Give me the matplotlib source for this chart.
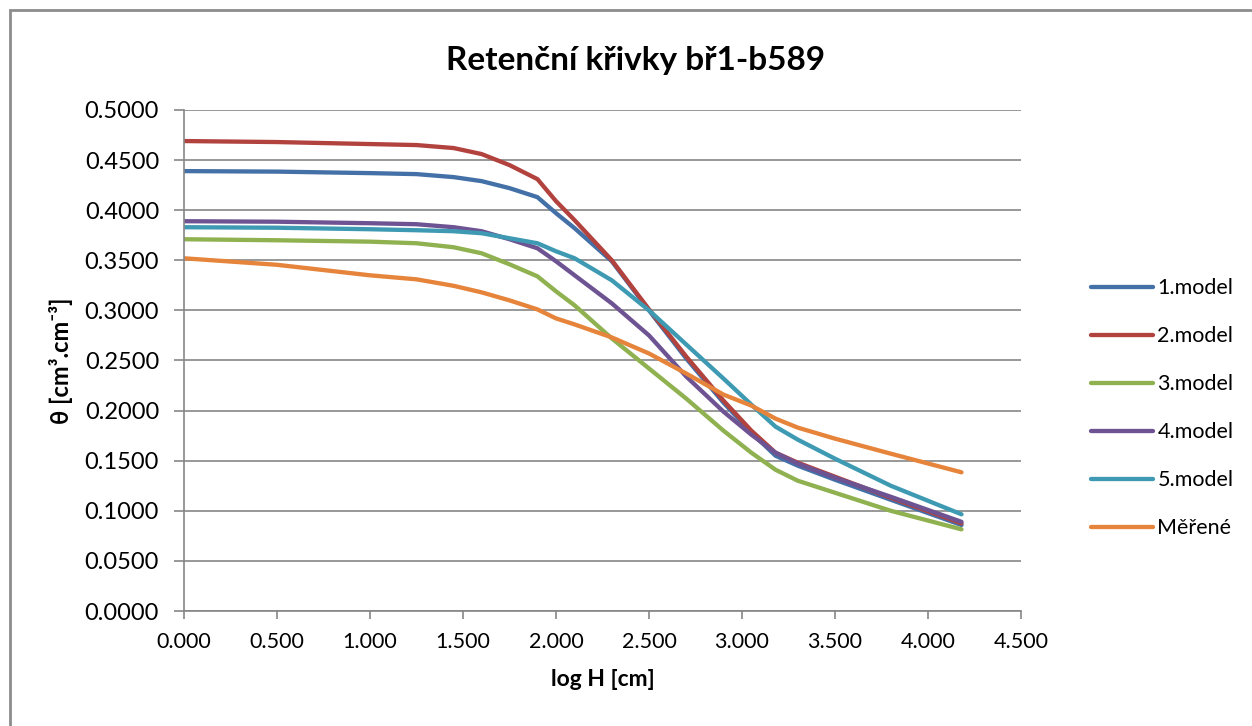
import matplotlib
matplotlib.use("Agg")
import matplotlib.pyplot as plt
from matplotlib.patches import Rectangle

log_h = [0.0, 0.5, 1.0, 1.25, 1.45, 1.6, 1.75, 1.9, 2.0, 2.1, 2.3, 2.5, 2.7,
         2.9, 3.05, 3.18, 3.3, 3.5, 3.8, 4.18]

model_1 = [0.439, 0.4385, 0.437, 0.436, 0.433, 0.429, 0.422, 0.413, 0.397, 0.382,
           0.349, 0.300, 0.252, 0.208, 0.178, 0.155, 0.145, 0.131, 0.111, 0.0858]
model_2 = [0.469, 0.468, 0.466, 0.465, 0.462, 0.456, 0.445, 0.431, 0.409, 0.390,
           0.350, 0.301, 0.254, 0.210, 0.180, 0.158, 0.148, 0.134, 0.113, 0.0875]
model_3 = [0.371, 0.370, 0.3686, 0.367, 0.363, 0.357, 0.346, 0.334, 0.319, 0.305,
           0.272, 0.242, 0.212, 0.180, 0.158, 0.141, 0.130, 0.118, 0.100, 0.0815]
model_4 = [0.389, 0.3885, 0.387, 0.386, 0.383, 0.379, 0.371, 0.362, 0.349, 0.335,
           0.307, 0.275, 0.234, 0.199, 0.176, 0.158, 0.147, 0.133, 0.114, 0.089]
model_5 = [0.383, 0.3825, 0.381, 0.380, 0.379, 0.377, 0.372, 0.367, 0.359, 0.352,
           0.330, 0.300, 0.266, 0.232, 0.206, 0.184, 0.171, 0.152, 0.125, 0.0965]
merene = [0.352, 0.3455, 0.335, 0.331, 0.3245, 0.318, 0.310, 0.301, 0.292, 0.286,
          0.273, 0.257, 0.237, 0.216, 0.205, 0.192, 0.183, 0.172, 0.157, 0.1384]

series = [
    ("1.model", model_1, "#4470A8"),
    ("2.model", model_2, "#B2423E"),
    ("3.model", model_3, "#8FB150"),
    ("4.model", model_4, "#6E5393"),
    ("5.model", model_5, "#3E9AB3"),
    ("Měřené", merene, "#E5843A"),
]

plt.rcParams["font.family"] = ["Lato", "DejaVu Sans"]

fig = plt.figure(figsize=(12.52, 7.26), dpi=100)
ax = fig.add_axes([0.147, 0.1584, 0.6685, 0.6901])

for label, values, color in series:
    ax.plot(log_h, values, color=color, linewidth=3.1, label=label,
            solid_capstyle="round", solid_joinstyle="round")

ax.set_xlim(0, 4.5)
ax.set_ylim(0, 0.5)
ax.set_xticks([i * 0.5 for i in range(10)])
ax.set_xticklabels([f"{i * 0.5:.3f}" for i in range(10)])
ax.set_yticks([i * 0.05 for i in range(11)])
ax.set_yticklabels([f"{i * 0.05:.4f}" for i in range(11)])

grid_color = "#868686"
ax.grid(axis="y", color=grid_color, linewidth=1.2)
ax.set_axisbelow(True)
for side in ("top", "right"):
    ax.spines[side].set_visible(False)
for side in ("left", "bottom"):
    ax.spines[side].set_color(grid_color)
    ax.spines[side].set_linewidth(1.2)
ax.tick_params(axis="both", colors=grid_color, labelcolor="black",
               direction="out")
ax.tick_params(axis="y", length=7, width=1.2, pad=11, labelsize=17)
ax.tick_params(axis="x", length=6, width=1.2, pad=9, labelsize=15.5)

ax.set_xlabel("log H [cm]", fontsize=16.5, fontweight="bold", labelpad=12)
ax.set_ylabel("θ [cm³.cm⁻³]", fontsize=17, fontweight="bold", labelpad=8)
fig.text(0.508, 0.917, "Retenční křivky bř1-b589", ha="center", va="center",
         fontsize=24, fontweight="bold")

ax.legend(loc="center left", bbox_to_anchor=(1.06, 0.405), frameon=False,
          fontsize=15.5, handlelength=2.9, handletextpad=0.2,
          labelspacing=1.3)

fig.patches.append(Rectangle((10 / 1252, -0.1), 1.2, 1 - 10 / 726 + 0.1,
                             transform=fig.transFigure, fill=False,
                             edgecolor="#8c8c8c", linewidth=2.0))

fig.savefig("out.png", dpi=100)
